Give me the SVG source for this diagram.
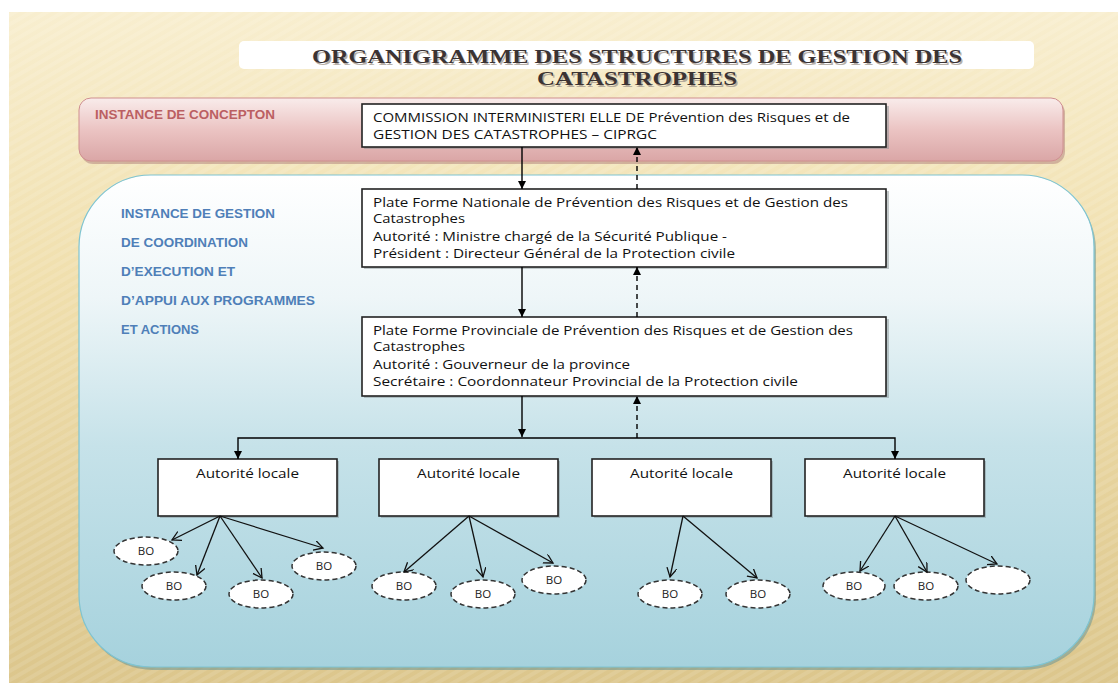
<svg xmlns="http://www.w3.org/2000/svg" width="1118" height="684" viewBox="0 0 1118 684">
<defs>
<linearGradient id="bg" x1="0" y1="0" x2="0" y2="1">
<stop offset="0" stop-color="#f8eecf"/>
<stop offset="0.4" stop-color="#f0dfad"/>
<stop offset="1" stop-color="#dcc68c"/>
</linearGradient>
<pattern id="stripes" width="8" height="8" patternUnits="userSpaceOnUse" patternTransform="rotate(60)">
<rect width="4" height="8" fill="#ffffff" opacity="0.1"/>
</pattern>
<linearGradient id="pink" x1="0" y1="0" x2="0" y2="1">
<stop offset="0" stop-color="#f9eceb"/>
<stop offset="0.5" stop-color="#ebc4c3"/>
<stop offset="1" stop-color="#daa6a6"/>
</linearGradient>
<linearGradient id="blue" x1="0" y1="0" x2="0" y2="1">
<stop offset="0" stop-color="#ffffff"/>
<stop offset="0.25" stop-color="#eef6f8"/>
<stop offset="0.55" stop-color="#c6e2e9"/>
<stop offset="1" stop-color="#a6d2dd"/>
</linearGradient>
<marker id="af" markerUnits="userSpaceOnUse" markerWidth="9" markerHeight="8" refX="8" refY="4" orient="auto">
<path d="M0,0 L8,4 L0,8 z" fill="#000"/>
</marker>
<marker id="ao" markerUnits="userSpaceOnUse" markerWidth="12" markerHeight="12" refX="9" refY="5" orient="auto">
<path d="M0,0 L9,5 L0,10" fill="none" stroke="#111" stroke-width="1.3"/>
</marker>
</defs>
<style>
.box{fill:#ffffff;stroke:#222;stroke-width:1.6}
.sh{fill:#7f8a8c;opacity:0.45}
.t{font-family:"Open Sans","Liberation Sans",sans-serif;font-size:12.5px;fill:#111}
.loc{font-family:"Open Sans","Liberation Sans",sans-serif;font-size:13.5px;fill:#111;text-anchor:middle}
.lbl{font-family:"Liberation Sans",Arial,sans-serif;font-size:12px;font-weight:bold;fill:#4f7fb8}
.red{font-family:"Liberation Sans",Arial,sans-serif;font-size:12px;font-weight:bold;fill:#bb5f62}
.title{font-family:"Liberation Serif","Times New Roman",serif;font-weight:bold;font-size:18.5px;fill:#3b3333}
.tsh{font-family:"Liberation Serif","Times New Roman",serif;font-weight:bold;font-size:18.5px;fill:#9a8f86;opacity:0.7}
.bo{fill:#ffffff;stroke:#333;stroke-width:1.5;stroke-dasharray:5 3}
.bot{font-family:"Open Sans","Liberation Sans",sans-serif;font-size:11.5px;fill:#222;text-anchor:middle}
.solid{stroke:#000;stroke-width:1.4;fill:none}
.dash{stroke:#000;stroke-width:1.4;fill:none;stroke-dasharray:5 4}
.fan{stroke:#111;stroke-width:1.3;fill:none}
</style>
<rect x="0" y="0" width="1118" height="684" fill="#ffffff"/>
<rect x="9" y="12" width="1109" height="671" fill="url(#bg)"/>
<rect x="9" y="12" width="1109" height="671" fill="url(#stripes)"/>

<g id="title">
<rect x="239" y="41" width="795" height="28" rx="5" fill="#ffffff"/>
<text class="tsh" x="638.5" y="64.5" text-anchor="middle" textLength="650" lengthAdjust="spacingAndGlyphs">ORGANIGRAMME DES STRUCTURES DE GESTION DES</text>
<text class="title" x="637" y="63" text-anchor="middle" textLength="650" lengthAdjust="spacingAndGlyphs">ORGANIGRAMME DES STRUCTURES DE GESTION DES</text>
<text class="tsh" x="638.5" y="86.5" text-anchor="middle" textLength="200" lengthAdjust="spacingAndGlyphs">CATASTROPHES</text>
<text class="title" x="637" y="85" text-anchor="middle" textLength="200" lengthAdjust="spacingAndGlyphs">CATASTROPHES</text>
</g>

<g id="instance-conception">
<rect x="81" y="101" width="984" height="63" rx="12" fill="#a77070" opacity="0.45"/>
<rect x="79" y="98" width="984" height="63" rx="12" fill="url(#pink)" stroke="#cf8f8f" stroke-width="1"/>
<text class="red" x="95" y="119" textLength="180" lengthAdjust="spacingAndGlyphs">INSTANCE DE CONCEPTON</text>
</g>

<g id="instance-gestion">
<rect x="81" y="178" width="1015" height="492" rx="72" fill="#5f8f93" opacity="0.5"/>
<rect x="79" y="175" width="1015" height="492" rx="72" fill="url(#blue)" stroke="#7ec4d2" stroke-width="1.2"/>
<text class="lbl" x="121" y="218" textLength="154" lengthAdjust="spacingAndGlyphs">INSTANCE DE GESTION</text>
<text class="lbl" x="121" y="247" textLength="127" lengthAdjust="spacingAndGlyphs">DE COORDINATION</text>
<text class="lbl" x="121" y="276" textLength="114" lengthAdjust="spacingAndGlyphs">D’EXECUTION  ET</text>
<text class="lbl" x="121" y="305" textLength="194" lengthAdjust="spacingAndGlyphs">D’APPUI AUX PROGRAMMES</text>
<text class="lbl" x="121" y="334" textLength="78" lengthAdjust="spacingAndGlyphs">ET ACTIONS</text>
</g>

<g id="ciprgc">
<rect class="sh" x="364" y="106" width="525" height="43"/>
<rect class="box" x="362" y="104" width="524" height="43"/>
<text class="t" x="373" y="122" textLength="477" lengthAdjust="spacingAndGlyphs">COMMISSION  INTERMINISTERI ELLE   DE Prévention des Risques et de</text>
<text class="t" x="373" y="139" textLength="284" lengthAdjust="spacingAndGlyphs">GESTION   DES CATASTROPHES    – CIPRGC</text>
</g>

<g id="plateforme-nationale">
<rect class="sh" x="364" y="191" width="525" height="78"/>
<rect class="box" x="362" y="189" width="524" height="78"/>
<text class="t" x="373" y="207" textLength="475" lengthAdjust="spacingAndGlyphs">Plate  Forme Nationale de Prévention des Risques et de Gestion des</text>
<text class="t" x="373" y="223" textLength="92" lengthAdjust="spacingAndGlyphs">Catastrophes</text>
<text class="t" x="373" y="241" textLength="354" lengthAdjust="spacingAndGlyphs">Autorité : Ministre chargé  de la Sécurité Publique -</text>
<text class="t" x="373" y="258" textLength="362" lengthAdjust="spacingAndGlyphs">Président : Directeur Général de la Protection civile</text>
</g>

<g id="plateforme-provinciale">
<rect class="sh" x="364" y="319" width="525" height="79"/>
<rect class="box" x="362" y="317" width="524" height="79"/>
<text class="t" x="373" y="335" textLength="480" lengthAdjust="spacingAndGlyphs">Plate Forme Provinciale de Prévention des Risques et de Gestion des</text>
<text class="t" x="373" y="351" textLength="92" lengthAdjust="spacingAndGlyphs">Catastrophes</text>
<text class="t" x="373" y="369" textLength="257" lengthAdjust="spacingAndGlyphs">Autorité : Gouverneur de la province</text>
<text class="t" x="373" y="386" textLength="425" lengthAdjust="spacingAndGlyphs">Secrétaire : Coordonnateur  Provincial de la Protection civile</text>
</g>

<g id="autorite-1">
<rect class="sh" x="160" y="461" width="179" height="57"/>
<rect class="box" x="158" y="459" width="179" height="57"/>
<text class="loc" x="247.5" y="478" textLength="103" lengthAdjust="spacingAndGlyphs">Autorité locale</text>
</g>
<g id="autorite-2">
<rect class="sh" x="381" y="461" width="179" height="57"/>
<rect class="box" x="379" y="459" width="179" height="57"/>
<text class="loc" x="468.5" y="478" textLength="103" lengthAdjust="spacingAndGlyphs">Autorité locale</text>
</g>
<g id="autorite-3">
<rect class="sh" x="594" y="461" width="179" height="57"/>
<rect class="box" x="592" y="459" width="179" height="57"/>
<text class="loc" x="681.5" y="478" textLength="103" lengthAdjust="spacingAndGlyphs">Autorité locale</text>
</g>
<g id="autorite-4">
<rect class="sh" x="807" y="461" width="179" height="57"/>
<rect class="box" x="805" y="459" width="179" height="57"/>
<text class="loc" x="894.5" y="478" textLength="103" lengthAdjust="spacingAndGlyphs">Autorité locale</text>
</g>

<g id="bo-1"><ellipse class="bo" cx="146" cy="551" rx="32" ry="14"/><text class="bot" x="146" y="555">BO</text></g>
<g id="bo-2"><ellipse class="bo" cx="174" cy="586" rx="32" ry="14"/><text class="bot" x="174" y="590">BO</text></g>
<g id="bo-3"><ellipse class="bo" cx="261" cy="594" rx="32" ry="14"/><text class="bot" x="261" y="598">BO</text></g>
<g id="bo-4"><ellipse class="bo" cx="324" cy="566" rx="32" ry="14"/><text class="bot" x="324" y="570">BO</text></g>
<g id="bo-5"><ellipse class="bo" cx="404" cy="586" rx="32" ry="14"/><text class="bot" x="404" y="590">BO</text></g>
<g id="bo-6"><ellipse class="bo" cx="483" cy="594" rx="32" ry="14"/><text class="bot" x="483" y="598">BO</text></g>
<g id="bo-7"><ellipse class="bo" cx="554" cy="580" rx="32" ry="14"/><text class="bot" x="554" y="584">BO</text></g>
<g id="bo-8"><ellipse class="bo" cx="670" cy="594" rx="32" ry="14"/><text class="bot" x="670" y="598">BO</text></g>
<g id="bo-9"><ellipse class="bo" cx="758" cy="594" rx="32" ry="14"/><text class="bot" x="758" y="598">BO</text></g>
<g id="bo-10"><ellipse class="bo" cx="854" cy="586" rx="31" ry="14"/><text class="bot" x="854" y="590">BO</text></g>
<g id="bo-11"><ellipse class="bo" cx="926" cy="586" rx="32" ry="14"/><text class="bot" x="926" y="590">BO</text></g>
<g id="bo-12"><ellipse class="bo" cx="998" cy="580" rx="32" ry="14"/></g>

<g id="connectors">
<path class="solid" d="M522,147 V189" marker-end="url(#af)"/>
<path class="dash" d="M637,189 V147" marker-end="url(#af)"/>
<path class="solid" d="M522,267 V317" marker-end="url(#af)"/>
<path class="dash" d="M637,317 V267" marker-end="url(#af)"/>
<path class="solid" d="M522,396 V437" marker-end="url(#af)"/>
<path class="dash" d="M637,438 V396" marker-end="url(#af)"/>
<path class="solid" d="M522,438 H238 V459" marker-end="url(#af)"/>
<path class="solid" d="M522,438 H895 V459" marker-end="url(#af)"/>
<path class="fan" d="M220,516 L172,540" marker-end="url(#ao)"/>
<path class="fan" d="M220,516 L197,575" marker-end="url(#ao)"/>
<path class="fan" d="M220,516 L262,578" marker-end="url(#ao)"/>
<path class="fan" d="M220,516 L323,548" marker-end="url(#ao)"/>
<path class="fan" d="M469,516 L404,572" marker-end="url(#ao)"/>
<path class="fan" d="M469,516 L483,577" marker-end="url(#ao)"/>
<path class="fan" d="M469,516 L553,563" marker-end="url(#ao)"/>
<path class="fan" d="M683,516 L670,577" marker-end="url(#ao)"/>
<path class="fan" d="M683,516 L757,578" marker-end="url(#ao)"/>
<path class="fan" d="M895,516 L860,571" marker-end="url(#ao)"/>
<path class="fan" d="M895,516 L927,572" marker-end="url(#ao)"/>
<path class="fan" d="M895,516 L997,564" marker-end="url(#ao)"/>
</g>
</svg>
